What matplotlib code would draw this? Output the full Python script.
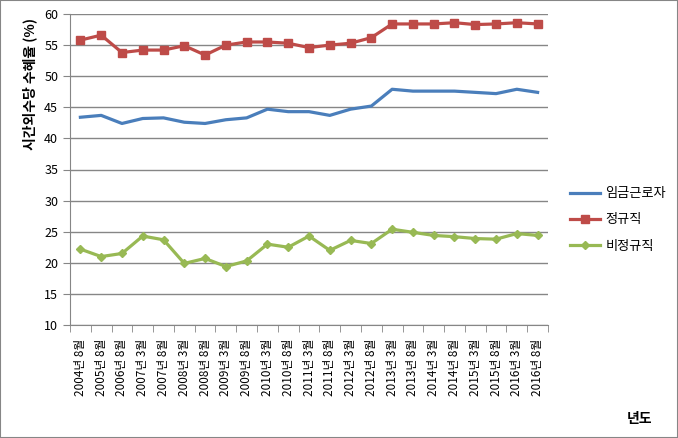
import matplotlib
matplotlib.use("Agg")
import matplotlib.pyplot as plt
from matplotlib.patches import Rectangle

plt.rcParams['font.family'] = ['Noto Sans CJK KR', 'DejaVu Sans']

# 조사 시점 (년도/월)
labels = ['2004년 8월', '2005년 8월', '2006년 8월', '2007년 3월', '2007년 8월',
          '2008년 3월', '2008년 8월', '2009년 3월', '2009년 8월', '2010년 3월',
          '2010년 8월', '2011년 3월', '2011년 8월', '2012년 3월', '2012년 8월',
          '2013년 3월', '2013년 8월', '2014년 3월', '2014년 8월', '2015년 3월',
          '2015년 8월', '2016년 3월', '2016년 8월']

wage = [43.4, 43.7, 42.4, 43.2, 43.3, 42.6, 42.4, 43.0, 43.3, 44.7, 44.3, 44.3,
        43.7, 44.7, 45.2, 47.9, 47.6, 47.6, 47.6, 47.4, 47.2, 47.9, 47.4]
regular = [55.8, 56.6, 53.8, 54.2, 54.2, 54.9, 53.4, 55.0, 55.5, 55.5, 55.3, 54.6,
           55.0, 55.3, 56.2, 58.4, 58.4, 58.4, 58.6, 58.3, 58.4, 58.6, 58.4]
irregular = [22.2, 21.0, 21.5, 24.3, 23.7, 19.9, 20.7, 19.4, 20.3, 23.0, 22.5, 24.3,
             22.0, 23.6, 23.1, 25.4, 24.9, 24.4, 24.2, 23.9, 23.8, 24.7, 24.4]

x = list(range(len(labels)))

fig = plt.figure(figsize=(6.78, 4.38), dpi=100)
ax = fig.add_axes([70/678, 1 - 325/438, 478/678, 311/438])

grid_c = '#868686'
ax.plot(x, wage, color='#4A7EBB', lw=2.3, label='임금근로자', zorder=3)
ax.plot(x, regular, color='#BE4B48', lw=2.3, marker='s', ms=5.5, label='정규직', zorder=3)
ax.plot(x, irregular, color='#98B954', lw=2.3, marker='D', ms=4, label='비정규직', zorder=3)

ax.set_ylim(10, 60)
ax.set_yticks(range(10, 61, 5))
ax.set_xlim(-0.5, len(labels) - 0.5)
ax.yaxis.grid(True, color=grid_c, lw=1)
ax.set_axisbelow(True)

for s in ['top', 'right']:
    ax.spines[s].set_visible(False)
ax.spines['left'].set_color(grid_c)
ax.spines['bottom'].set_color(grid_c)

ax.set_xticks(x)
ax.set_xticklabels(labels, rotation=90, fontsize=8.5)
ax.set_xticks([i - 0.5 for i in range(len(labels) + 1)], minor=True)
ax.tick_params(axis='x', which='major', length=0, pad=10)
ax.tick_params(axis='x', which='minor', length=5, color=grid_c, direction='out')
ax.tick_params(axis='y', length=5, color=grid_c, labelsize=9, direction='out')

fig.text(30/678, 1 - 84/438, '시간외수당 수혜율 (%)', rotation=90, ha='center', va='center',
         fontsize=10, fontweight='bold')
fig.text(640/678, 1 - 419/438, '년도', ha='center', va='center', fontsize=10, fontweight='bold')

ax.legend(loc='center left', bbox_to_anchor=(558/678, 1 - 220/438), bbox_transform=fig.transFigure,
          frameon=False, fontsize=9.5, handlelength=2.3, handletextpad=0.4, labelspacing=1.0)

fig.patches.append(Rectangle((0, 0), 1, 1, transform=fig.transFigure, fill=False,
                             edgecolor=grid_c, lw=1.5))

fig.savefig('out.png', dpi=100)
